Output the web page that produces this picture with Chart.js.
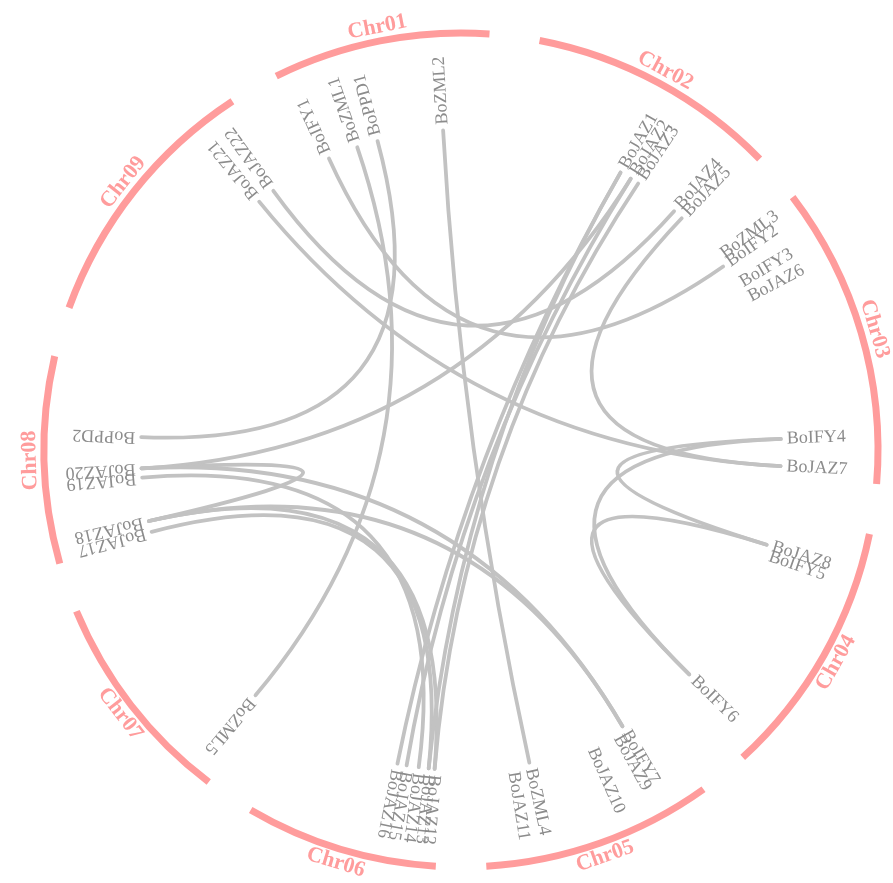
<!DOCTYPE html>
<html>
<head>
<meta charset="utf-8">
<title>Chr links</title>
<script src="https://cdn.jsdelivr.net/npm/chart.js@4.4.1/dist/chart.umd.min.js"></script>
<style>
  html, body { margin: 0; padding: 0; background: #fff; }
  canvas { display: block; }
</style>
</head>
<body>
<canvas id="circos" width="893" height="883"></canvas>
<script>
// chromosomes and their lengths (Mb)
const chromosomes = ["Chr01", "Chr02", "Chr03", "Chr04", "Chr05", "Chr06", "Chr07", "Chr08", "Chr09"];
const chromLengths = [45.4, 52.4, 63.1, 53.9, 48.2, 40.3, 45.1, 43.3, 55.3];

// genes: name, chromosome index, position on chromosome (Mb)
const geneNames = [
  "BoIFY1", "BoZML1", "BoPPD1", "BoZML2",
  "BoJAZ1", "BoJAZ2", "BoJAZ3", "BoJAZ4", "BoJAZ5",
  "BoZML3", "BoIFY2", "BoIFY3", "BoJAZ6", "BoIFY4", "BoJAZ7",
  "BoJAZ8", "BoIFY5", "BoIFY6",
  "BoIFY7", "BoJAZ9", "BoJAZ10", "BoZML4", "BoJAZ11",
  "BoJAZ12", "BoJAZ13", "BoJAZ14", "BoJAZ15", "BoJAZ16",
  "BoZML5",
  "BoJAZ17", "BoJAZ18", "BoJAZ19", "BoJAZ20", "BoPPD2",
  "BoJAZ21", "BoJAZ22"
];
const geneChrom = [
  0, 0, 0, 0,
  1, 1, 1, 1, 1,
  2, 2, 2, 2, 2, 2,
  3, 3, 3,
  4, 4, 4, 4, 4,
  5, 5, 5, 5, 5,
  6,
  7, 7, 7, 7, 7,
  8, 8
];
const genePos = [
  2.9, 11.1, 16.8, 34.7,
  28.6, 31.8, 34.2, 46.4, 49.2,
  0.9, 3.5, 9.8, 14.2, 53.1, 60.4,
  8.4, 11.1, 49.4,
  7.9, 10.3, 17.8, 34.9, 39.6,
  1.9, 3.5, 6.2, 9.5, 12.0,
  4.1,
  1.5, 4.5, 16.3, 18.8, 27.2,
  46.5, 51.3
];

// collinear gene pairs
const linkFrom = [
  "BoZML2", "BoZML1", "BoPPD1", "BoIFY1", "BoJAZ22", "BoJAZ21", "BoJAZ5",
  "BoJAZ20", "BoJAZ20", "BoJAZ20", "BoJAZ18", "BoJAZ18", "BoJAZ17", "BoJAZ19",
  "BoJAZ1", "BoJAZ2", "BoJAZ3", "BoJAZ1",
  "BoIFY4", "BoIFY4", "BoJAZ8"
];
const linkTo = [
  "BoZML4", "BoZML5", "BoPPD2", "BoIFY2", "BoJAZ4", "BoJAZ7", "BoJAZ7",
  "BoJAZ2", "BoJAZ18", "BoIFY7", "BoIFY7", "BoJAZ12", "BoJAZ13", "BoJAZ14",
  "BoJAZ16", "BoJAZ15", "BoJAZ12", "BoJAZ13",
  "BoJAZ8", "BoIFY6", "BoIFY6"
];

// ring layout (degrees, clockwise from 3 o'clock)
const startAngle = 243.7;
const gapAngle = 6.94;
const ringRadius = 417;
const linkRadius = 320;
const geneLabelRadius = 326;
const chromLabelRadius = 431;

const totalLength = chromLengths.reduce((a, b) => a + b, 0);
const degPerMb = (360 - gapAngle * chromosomes.length) / totalLength;

const chromStart = [];
let acc = startAngle;
chromLengths.forEach((len) => {
  chromStart.push(acc);
  acc += len * degPerMb + gapAngle;
});

function geneAngle(i) {
  return chromStart[geneChrom[i]] + genePos[i] * degPerMb;
}

const toRad = (d) => (d * Math.PI) / 180;

// polar -> data coordinates
function polar(angle, r) {
  return { x: r * Math.cos(toRad(angle)), y: r * Math.sin(toRad(angle)) };
}

const geneEnds = geneNames.map((_, i) => polar(geneAngle(i), linkRadius));

const circosPlugin = {
  id: "circos",
  afterDatasetsDraw(chart) {
    const ctx = chart.ctx;
    const xs = chart.scales.x;
    const ys = chart.scales.y;
    const px = (p) => ({ x: xs.getPixelForValue(p.x), y: ys.getPixelForValue(p.y) });
    const center = px({ x: 0, y: 0 });
    const unit = xs.getPixelForValue(1) - xs.getPixelForValue(0);

    ctx.save();

    // links
    ctx.strokeStyle = "#c2c2c2";
    ctx.lineWidth = 3.8;
    ctx.lineCap = "round";
    linkFrom.forEach((from, k) => {
      const a = geneNames.indexOf(from);
      const b = geneNames.indexOf(linkTo[k]);
      const p0 = px(geneEnds[a]);
      const p1 = px(geneEnds[b]);
      ctx.beginPath();
      ctx.moveTo(p0.x, p0.y);
      ctx.quadraticCurveTo(center.x, center.y, p1.x, p1.y);
      ctx.stroke();
    });

    // chromosome arcs
    ctx.strokeStyle = "#ff9c9c";
    ctx.lineWidth = 7;
    ctx.lineCap = "butt";
    chromosomes.forEach((name, i) => {
      const a0 = chromStart[i];
      const a1 = a0 + chromLengths[i] * degPerMb;
      ctx.beginPath();
      ctx.arc(center.x, center.y, ringRadius * unit, toRad(a0), toRad(a1));
      ctx.stroke();
    });

    // chromosome names
    ctx.fillStyle = "#ff9c9c";
    ctx.font = "bold 22px 'Liberation Serif', 'Times New Roman', serif";
    ctx.textAlign = "center";
    ctx.textBaseline = "middle";
    chromosomes.forEach((name, i) => {
      const mid = chromStart[i] + (chromLengths[i] * degPerMb) / 2;
      const p = px(polar(mid, chromLabelRadius));
      const lower = Math.sin(toRad(mid)) > 0.05;
      ctx.save();
      ctx.translate(p.x, p.y);
      ctx.rotate(toRad(lower ? mid - 90 : mid + 90));
      ctx.fillText(name, 0, 0);
      ctx.restore();
    });

    // gene names, radial
    ctx.fillStyle = "#8c8c8c";
    ctx.font = "18px 'Liberation Serif', 'Times New Roman', serif";
    ctx.textAlign = "left";
    ctx.textBaseline = "middle";
    geneNames.forEach((name, i) => {
      const ang = geneAngle(i);
      const p = px(polar(ang, geneLabelRadius));
      ctx.save();
      ctx.translate(p.x, p.y);
      ctx.rotate(toRad(ang));
      ctx.fillText(name, 0, 0);
      ctx.restore();
    });

    ctx.restore();
  }
};

new Chart(document.getElementById("circos"), {
  type: "scatter",
  data: {
    datasets: [{
      data: geneEnds,
      pointRadius: 0,
      showLine: false
    }]
  },
  options: {
    responsive: false,
    animation: false,
    layout: { padding: 0 },
    plugins: { legend: { display: false }, tooltip: { enabled: false } },
    scales: {
      x: { type: "linear", min: -461, max: 432, display: false },
      y: { type: "linear", min: -450, max: 433, reverse: true, display: false }
    }
  },
  plugins: [circosPlugin]
});
</script>
</body>
</html>
